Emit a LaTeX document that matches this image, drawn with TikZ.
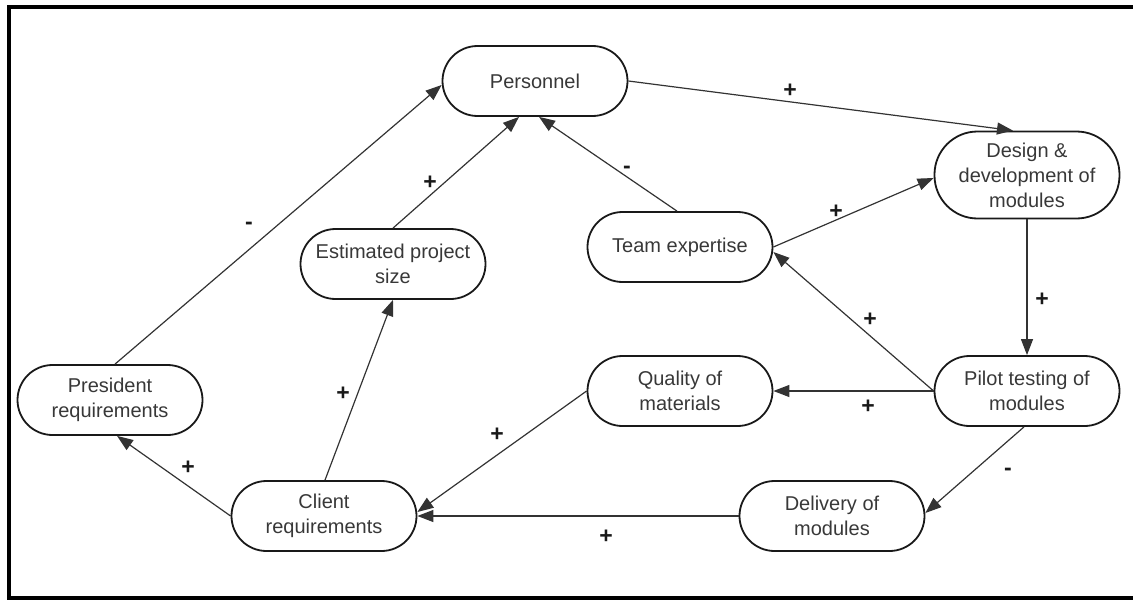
\documentclass[tikz,border=0pt]{standalone}
\usepackage{fontspec}
\setmainfont{Liberation Sans}
\usetikzlibrary{arrows.meta}
\begin{document}
\begin{tikzpicture}[x=1pt,y=-1pt,
 box/.style={draw=black!90, line width=1.8pt, rounded corners=35pt, minimum width=185pt, minimum height=70pt, align=center, font=\fontsize{20}{25}\selectfont, text=black!78, inner sep=0pt},
 conn/.style={draw=black!80, line width=1.2pt, -{Triangle[length=16pt,width=12pt]}},
 sign/.style={font=\bfseries\fontsize{23}{24}\selectfont, text=black!90, inner sep=0pt}]
\useasboundingbox (0,0) rectangle (1133,602);
\draw[line width=4pt] (1133,598) -- (9,598) -- (9,7) -- (1133,7);

\node[box] (pers) at (535,81) {Personnel};
\node[box, minimum height=87pt, rounded corners=43pt] (des) at (1027,175) {Design \&\\development of\\modules};
\node[box] (team) at (680,247) {Team expertise};
\node[box] (est) at (393,264) {Estimated project\\size};
\node[box] (pres) at (110,400) {President\\requirements};
\node[box] (qual) at (680,391) {Quality of\\materials};
\node[box] (pilot) at (1027,391) {Pilot testing of\\modules};
\node[box] (client) at (324,516) {Client\\requirements};
\node[box] (deliv) at (832,516) {Delivery of\\modules};

\draw[conn] ([xshift=5pt]pres.north) -- ([yshift=-4pt]pers.west);
\draw[conn] (est.north) -- ([xshift=-16pt]pers.south);
\draw[conn] ([xshift=-3pt]team.north) -- ([xshift=4pt]pers.south);
\draw[conn] (pers.east) -- ([xshift=-14pt]des.north);
\draw[conn] (team.east) -- ([yshift=-3pt]des.west);
\draw[conn] (des.south) -- (pilot.north);
\draw[conn] (pilot.west) -- ([yshift=-5pt]team.east);
\draw[conn] (pilot.west) -- (qual.east);
\draw[conn] ([xshift=-3pt]pilot.south) -- ([yshift=3pt]deliv.east);
\draw[conn] (deliv.west) -- (client.east);
\draw[conn] (qual.west) -- ([yshift=4pt]client.east);
\draw[conn] ([xshift=1pt]client.north) -- (est.south);
\draw[conn] (client.west) -- ([xshift=7pt]pres.south);

\node[sign] (s1) at (249,226) {-};
\node[sign] (s2) at (430,183) {+};
\node[sign] (s3) at (627,170) {-};
\node[sign] (s4) at (790,91) {+};
\node[sign] (s5) at (836,212) {+};
\node[sign] (s6) at (1042,300) {+};
\node[sign] (s7) at (870,320) {+};
\node[sign] (s8) at (868,407) {+};
\node[sign] (s9) at (1008,472) {-};
\node[sign] (s10) at (606,537) {+};
\node[sign] (s11) at (497,435) {+};
\node[sign] (s12) at (343,394) {+};
\node[sign] (s13) at (188,468) {+};
\end{tikzpicture}
\end{document}
